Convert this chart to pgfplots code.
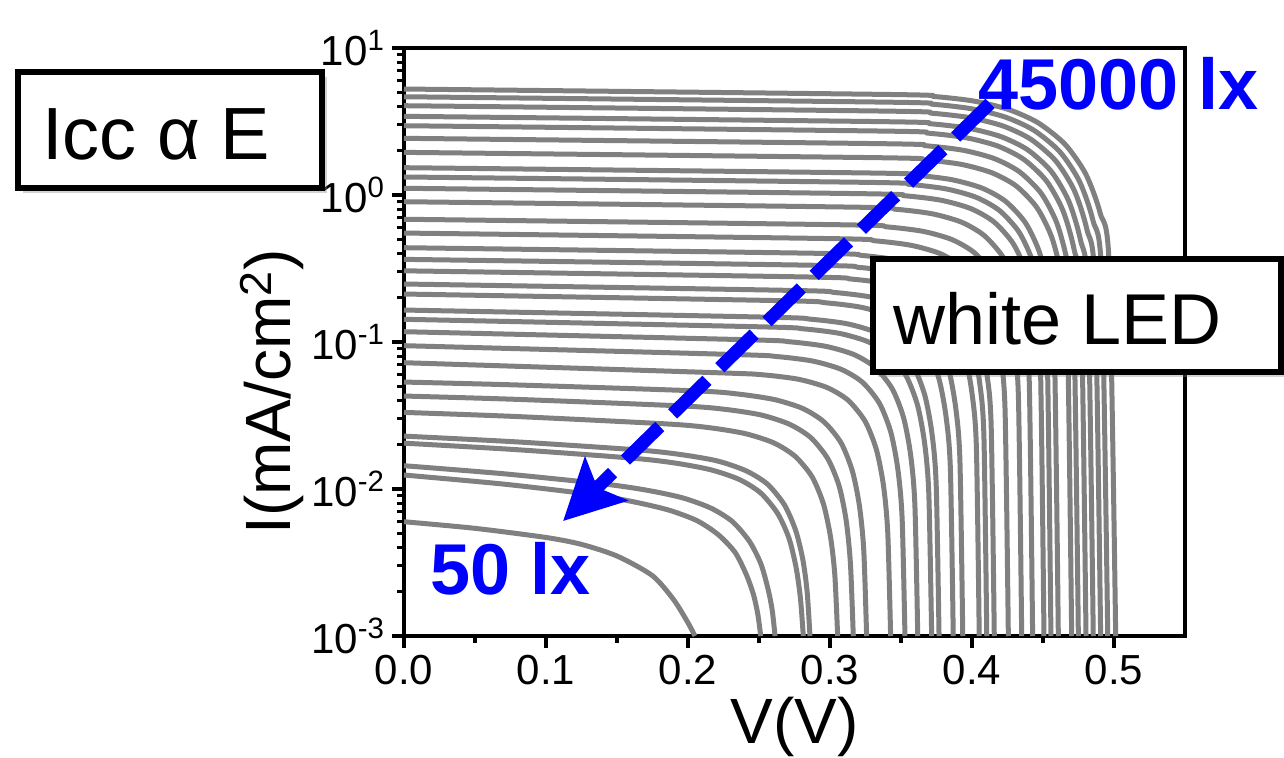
\documentclass[border=0pt]{standalone}
\usepackage{fontspec}
\setmainfont{Liberation Sans}
\usepackage{pgfplots}
\pgfplotsset{compat=1.18}
\usetikzlibrary{arrows.meta,shadows}
\definecolor{curvegray}{RGB}{128,128,128}
\definecolor{lxblue}{RGB}{0,0,255}
\pgfplotsset{iv/.style={color=curvegray, line width=2.5pt, no marks, line join=round, smooth, tension=0.45}}
\begin{document}
\begin{tikzpicture}
\useasboundingbox (-202pt,-61pt) rectangle (440pt,318pt);
\begin{axis}[
  at={(0pt,0pt)}, anchor=south west,
  scale only axis, width=390.5pt, height=294pt,
  xmin=0, xmax=0.55, ymode=log, ymin=1e-3, ymax=10,
  axis line style={line width=2pt},
  tick style={black, line width=1.6pt},
  tick align=outside, xtick pos=bottom, ytick pos=left,
  major tick length=6pt, minor tick length=3.5pt,
  xtick={0,0.1,0.2,0.3,0.4,0.5},
  xticklabels={0.0,0.1,0.2,0.3,0.4,0.5},
  minor xtick={0.05,0.15,0.25,0.35,0.45},
  ytick={1e-3,1e-2,1e-1,1,10},
  yticklabels={10\textsuperscript{-3},10\textsuperscript{-2},10\textsuperscript{-1},10\textsuperscript{0},10\textsuperscript{1}},
  minor ytick={2e-3,3e-3,4e-3,5e-3,6e-3,7e-3,8e-3,9e-3,2e-2,3e-2,4e-2,5e-2,6e-2,7e-2,8e-2,9e-2,0.2,0.3,0.4,0.5,0.6,0.7,0.8,0.9,2,3,4,5,6,7,8,9},
  tick label style={font=\fontsize{21}{21}\selectfont},
  xlabel={V(V)}, ylabel={I(mA/cm\textsuperscript{2})},
  label style={font=\fontsize{32}{32}\selectfont},
  xlabel style={at={(axis description cs:0.5,-0.155)}, anchor=center},
  ylabel style={at={(axis description cs:-0.169,0.415)}, anchor=center},
]
\addplot[iv] coordinates {(0,5.26) (0.3426,4.828) (0.3738,4.673) (0.4014,4.354) (0.4256,3.821) (0.4463,3.109) (0.4654,2.219) (0.4800,1.395) (0.4902,0.756) (0.4967,0.318) (0.5012,0.001)};
\addplot[iv] coordinates {(0,4.66) (0.3414,4.280) (0.3725,4.143) (0.3997,3.860) (0.4235,3.387) (0.4436,2.756) (0.4619,1.967) (0.4757,1.237) (0.4852,0.670) (0.4913,0.282) (0.4956,0.001)};
\addplot[iv] coordinates {(0,4.05) (0.3408,3.721) (0.3718,3.601) (0.3988,3.356) (0.4220,2.944) (0.4414,2.396) (0.4589,1.710) (0.4720,1.075) (0.4809,0.583) (0.4866,0.245) (0.4906,0.001)};
\addplot[iv] coordinates {(0,3.43) (0.3402,3.152) (0.3710,3.051) (0.3977,2.843) (0.4204,2.495) (0.4392,2.030) (0.4558,1.449) (0.4681,0.910) (0.4764,0.494) (0.4817,0.208) (0.4854,0.001)};
\addplot[iv] coordinates {(0,2.96) (0.3385,2.721) (0.3692,2.634) (0.3957,2.454) (0.4181,2.154) (0.4363,1.752) (0.4523,1.251) (0.4640,0.786) (0.4719,0.426) (0.4769,0.180) (0.4803,0.001)};
\addplot[iv] coordinates {(0,2.43) (0.3370,2.234) (0.3676,2.163) (0.3938,2.015) (0.4158,1.768) (0.4334,1.439) (0.4487,1.027) (0.4597,0.646) (0.4671,0.350) (0.4717,0.148) (0.4749,0.001)};
\addplot[iv] coordinates {(0,1.95) (0.3359,1.793) (0.3663,1.735) (0.3923,1.617) (0.4138,1.419) (0.4310,1.154) (0.4456,0.824) (0.4561,0.518) (0.4630,0.281) (0.4672,0.119) (0.4702,0.001)};
\addplot[iv] coordinates {(0,1.534) (0.3295,1.411) (0.3599,1.365) (0.3856,1.272) (0.4069,1.116) (0.4235,0.908) (0.4376,0.648) (0.4475,0.408) (0.4540,0.221) (0.4580,0.094) (0.4608,0.001)};
\addplot[iv] coordinates {(0,1.326) (0.3258,1.219) (0.3562,1.180) (0.3818,1.100) (0.4029,0.965) (0.4193,0.785) (0.4331,0.560) (0.4428,0.352) (0.4491,0.191) (0.4530,0.081) (0.4556,0.001)};
\addplot[iv] coordinates {(0,1.111) (0.3225,1.021) (0.3528,0.988) (0.3783,0.921) (0.3992,0.808) (0.4154,0.657) (0.4289,0.469) (0.4383,0.296) (0.4444,0.160) (0.4482,0.068) (0.4507,0.001)};
\addplot[iv] coordinates {(0,0.900) (0.3161,0.827) (0.3463,0.800) (0.3717,0.746) (0.3925,0.654) (0.4084,0.532) (0.4217,0.380) (0.4308,0.239) (0.4367,0.130) (0.4403,0.055) (0.4427,0.001)};
\addplot[iv] coordinates {(0,0.684) (0.3100,0.627) (0.3401,0.607) (0.3655,0.566) (0.3860,0.497) (0.4018,0.404) (0.4147,0.289) (0.4235,0.182) (0.4292,0.099) (0.4327,0.042) (0.4350,0.001)};
\addplot[iv] coordinates {(0,0.551) (0.3016,0.505) (0.3317,0.488) (0.3570,0.455) (0.3774,0.400) (0.3930,0.325) (0.4057,0.232) (0.4144,0.146) (0.4200,0.080) (0.4233,0.034) (0.4256,0.001)};
\addplot[iv] coordinates {(0,0.438) (0.2925,0.401) (0.3226,0.388) (0.3478,0.361) (0.3682,0.317) (0.3836,0.258) (0.3962,0.185) (0.4048,0.116) (0.4102,0.063) (0.4135,0.027) (0.4157,0.001)};
\addplot[iv] coordinates {(0,0.365) (0.2904,0.3325) (0.3204,0.3218) (0.3454,0.2999) (0.3654,0.2631) (0.3804,0.2141) (0.3924,0.1534) (0.4004,0.0967) (0.4054,0.0528) (0.4084,0.0228) (0.4104,0.001)};
\addplot[iv] coordinates {(0,0.305) (0.2851,0.2768) (0.3151,0.2680) (0.3401,0.2497) (0.3601,0.2193) (0.3751,0.1786) (0.3871,0.1278) (0.3951,0.0806) (0.4001,0.0441) (0.4031,0.0191) (0.4051,0.001)};
\addplot[iv] coordinates {(0,0.248) (0.2735,0.2243) (0.3035,0.2171) (0.3285,0.2024) (0.3485,0.1777) (0.3635,0.1448) (0.3755,0.1036) (0.3835,0.0655) (0.3885,0.0359) (0.3915,0.0156) (0.3935,0.001)};
\addplot[iv] coordinates {(0,0.212) (0.2668,0.1910) (0.2968,0.1849) (0.3218,0.1724) (0.3418,0.1514) (0.3568,0.1234) (0.3688,0.0883) (0.3768,0.0559) (0.3818,0.0307) (0.3848,0.0135) (0.3868,0.001)};
\addplot[iv] coordinates {(0,0.165) (0.2568,0.1475) (0.2868,0.1428) (0.3118,0.1332) (0.3318,0.1170) (0.3468,0.0954) (0.3588,0.0683) (0.3668,0.0433) (0.3718,0.0239) (0.3748,0.0106) (0.3768,0.001)};
\addplot[iv] coordinates {(0,0.1427) (0.2516,0.1268) (0.2816,0.1228) (0.3066,0.1145) (0.3266,0.1006) (0.3416,0.0821) (0.3536,0.0588) (0.3616,0.0373) (0.3666,0.0206) (0.3696,0.0092) (0.3716,0.001)};
\addplot[iv] coordinates {(0,0.1175) (0.2418,0.1036) (0.2718,0.1003) (0.2968,0.0935) (0.3168,0.0822) (0.3318,0.0671) (0.3438,0.0481) (0.3518,0.0306) (0.3568,0.0170) (0.3598,0.0077) (0.3618,0.001)};
\addplot[iv] coordinates {(0,0.0944) (0.2328,0.0822) (0.2628,0.0796) (0.2878,0.0742) (0.3078,0.0652) (0.3228,0.0533) (0.3348,0.0383) (0.3428,0.0244) (0.3478,0.0136) (0.3508,0.0063) (0.3528,0.001)};
\addplot[iv] coordinates {(0,0.0723) (0.2227,0.0617) (0.2527,0.0598) (0.2777,0.0558) (0.2977,0.0491) (0.3127,0.0402) (0.3247,0.0289) (0.3327,0.0185) (0.3377,0.0105) (0.3407,0.0050) (0.3427,0.001)};
\addplot[iv] coordinates {(0,0.0534) (0.08,0.0510) (0.2058,0.0465) (0.2358,0.0442) (0.2608,0.0406) (0.2808,0.0353) (0.2958,0.0286) (0.3078,0.0206) (0.3158,0.0132) (0.3208,0.0076) (0.3238,0.0038) (0.3258,0.001)};
\addplot[iv] coordinates {(0,0.0429) (0.08,0.0407) (0.1964,0.0367) (0.2264,0.0348) (0.2514,0.0319) (0.2714,0.0276) (0.2864,0.0224) (0.2984,0.0161) (0.3064,0.0105) (0.3114,0.0061) (0.3144,0.0031) (0.3164,0.001)};
\addplot[iv] coordinates {(0,0.0332) (0.08,0.0311) (0.1854,0.0277) (0.2154,0.0261) (0.2404,0.0238) (0.2604,0.0206) (0.2754,0.0167) (0.2874,0.0121) (0.2954,0.0079) (0.3004,0.0047) (0.3034,0.0026) (0.3054,0.001)};
\addplot[iv] coordinates {(0,0.0229) (0.08,0.0209) (0.1659,0.0184) (0.1959,0.0171) (0.2209,0.0155) (0.2409,0.0133) (0.2559,0.0108) (0.2679,0.0078) (0.2759,0.0052) (0.2809,0.0033) (0.2839,0.0020) (0.2859,0.001)};
\addplot[iv] coordinates {(0,0.0205) (0.08,0.0185) (0.1612,0.0162) (0.1912,0.0150) (0.2162,0.0135) (0.2362,0.0116) (0.2512,0.0094) (0.2632,0.0068) (0.2712,0.0046) (0.2762,0.0029) (0.2792,0.0018) (0.2812,0.001)};
\addplot[iv] coordinates {(0,0.0144) (0.07,0.0127) (0.1413,0.0108) (0.1713,0.0098) (0.1963,0.0087) (0.2163,0.0074) (0.2313,0.0060) (0.2433,0.0044) (0.2513,0.0031) (0.2563,0.0021) (0.2593,0.0015) (0.2613,0.001)};
\addplot[iv] coordinates {(0,0.01245) (0.07,0.0108) (0.1312,0.0092) (0.1612,0.0082) (0.1862,0.0072) (0.2062,0.0061) (0.2212,0.0049) (0.2332,0.0037) (0.2412,0.0026) (0.2462,0.0019) (0.2492,0.0014) (0.2512,0.001)};
\addplot[iv] coordinates {(0,0.00599) (0.05,0.0054) (0.1,0.00468) (0.125,0.0042) (0.15,0.0035) (0.175,0.00257) (0.19,0.00176) (0.2,0.00123) (0.2049,0.001)};
\draw[lxblue, line width=6.5pt, dash pattern=on 24pt off 9pt, -{Stealth[length=30pt,width=30pt,inset=6pt]}] (axis cs:0.4127,4.2) -- (axis cs:0.112,0.00605);
\end{axis}
\draw[line width=3pt, fill=white, drop shadow={shadow xshift=2.5pt, shadow yshift=-2.5pt, opacity=0.35}] (-193pt,224pt) rectangle (-41pt,282pt);
\node[anchor=base west, inner sep=0pt, font=\fontsize{37}{37}\selectfont] at (-181pt,238pt) {Icc α E};
\draw[line width=3pt, fill=white, drop shadow={shadow xshift=2.5pt, shadow yshift=-2.5pt, opacity=0.35}] (234.3pt,132pt) rectangle (438.5pt,188.5pt);
\node[anchor=base west, inner sep=0pt, font=\fontsize{36}{36}\selectfont] at (244.5pt,145.5pt) {white LED};
\node[anchor=base west, inner sep=0pt, text=lxblue, font=\fontsize{36}{36}\selectfont\bfseries] at (287pt,263pt) {45000 lx};
\node[anchor=base west, inner sep=0pt, text=lxblue, font=\fontsize{36}{36}\selectfont\bfseries] at (13pt,20.5pt) {50 lx};
\end{tikzpicture}
\end{document}
